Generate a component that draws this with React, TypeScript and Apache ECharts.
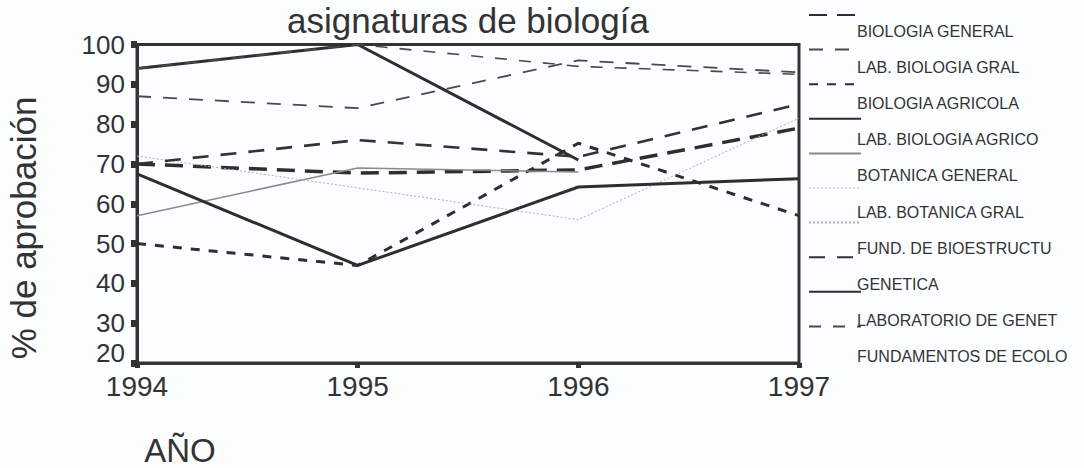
import React, { useEffect, useRef } from "react";
import * as echarts from "echarts";

const years = ["1994", "1995", "1996", "1997"];
const yTicks = { min: 20, max: 100, interval: 10 };

const seriesNames = [
  "BIOLOGIA GENERAL",
  "LAB. BIOLOGIA GRAL",
  "BIOLOGIA AGRICOLA",
  "LAB. BIOLOGIA AGRICO",
  "BOTANICA GENERAL",
  "LAB. BOTANICA GRAL",
  "FUND. DE BIOESTRUCTU",
  "GENETICA",
  "LABORATORIO DE GENET",
  "FUNDAMENTOS DE ECOLO",
];

const biologiaGeneral = [70, 67.7, 68.5, 79];
const labBiologiaGral = [87, 84, 96, 93];
const biologiaAgricola = [50, 44.5, 75.2, 57];
const labBiologiaAgrico = [94, 100, 71, null];
const botanicaGeneral = [57, 69, 68, null];
const labBotanicaGral = [null, null, null, null];
const fundBioestructu = [72, 64, 56, 81.5];
const genetica = [70, 76, 71.8, 85];
const laboratorioGenet = [67.5, 44.5, 64.2, 66.3];
const fundamentosEcolo = [94, 100, 94.5, 92.5];

const seriesData = [
  biologiaGeneral,
  labBiologiaGral,
  biologiaAgricola,
  labBiologiaAgrico,
  botanicaGeneral,
  labBotanicaGral,
  fundBioestructu,
  genetica,
  laboratorioGenet,
  fundamentosEcolo,
];

const lineStyles = [
  { color: "#2e2e2e", width: 3.5, type: [18, 10] },
  { color: "#4a4a4a", width: 1.8, type: [14, 12] },
  { color: "#2e2e2e", width: 3, type: [9, 9] },
  { color: "#2e2e2e", width: 3, type: "solid" },
  { color: "#8a8a8a", width: 1.5, type: "solid" },
  { color: "#dddddd", width: 1, type: [2, 2] },
  { color: "#b0b0b0", width: 1, type: [2, 2] },
  { color: "#333", width: 2.6, type: [16, 12] },
  { color: "#2e2e2e", width: 3, type: "solid" },
  { color: "#4a4a4a", width: 1.6, type: [12, 12] },
];

const FONT = "'Liberation Sans', Arial, sans-serif";
const TEXT = "#333";

export default function App() {
  const ref = useRef<HTMLDivElement>(null);

  useEffect(() => {
    if (!ref.current) return;
    const chart = echarts.init(ref.current, undefined, { renderer: "svg" });
    const option: any = {
      animation: false,
      backgroundColor: "#fcfdff",
      textStyle: { fontFamily: FONT },
      grid: {
        left: 137,
        right: 285,
        top: 44.5,
        bottom: 105,
        show: true,
        borderColor: "#333",
        borderWidth: 3,
        backgroundColor: "transparent",
      },
      xAxis: {
        type: "category",
        data: years,
        boundaryGap: false,
        axisLine: { show: true, lineStyle: { color: "#333", width: 3 } },
        axisTick: { show: true, length: 5, lineStyle: { color: "#333", width: 5 } },
        axisLabel: { fontSize: 28, color: TEXT, margin: 9, fontFamily: FONT },
        splitLine: { show: false },
      },
      yAxis: {
        type: "value",
        min: yTicks.min,
        max: yTicks.max,
        interval: yTicks.interval,
        axisLine: { show: true, lineStyle: { color: "#333", width: 3 } },
        axisTick: { show: true, length: 6, lineStyle: { color: "#333", width: 7 } },
        axisLabel: {
          fontSize: 26,
          lineHeight: 20,
          color: TEXT,
          margin: 12,
          fontFamily: FONT,
          verticalAlignMinLabel: "bottom",
        },
        splitLine: { show: false },
      },
      legend: [
        {
          orient: "vertical",
          left: 808,
          top: 7,
          padding: 0,
          itemWidth: 52,
          itemHeight: 16,
          itemGap: 20.2,
          formatter: () => "",
          textStyle: { fontSize: 1 },
          itemStyle: { opacity: 0, color: "transparent", borderColor: "transparent", borderWidth: 0 },
          data: seriesNames,
          selectedMode: false,
        },
        {
          orient: "vertical",
          left: 852,
          top: 23,
          padding: 0,
          icon: "rect",
          itemWidth: 0,
          itemHeight: 16,
          itemGap: 20.2,
          itemStyle: { opacity: 0 },
          textStyle: { fontSize: 16, color: TEXT, lineHeight: 16, fontFamily: FONT },
          data: seriesNames,
          selectedMode: false,
        },
      ],
      graphic: [
        {
          type: "text",
          x: 468,
          y: 20,
          style: {
            text: "asignaturas de biología",
            fontSize: 35,
            fontFamily: FONT,
            fill: TEXT,
            align: "center",
            verticalAlign: "middle",
          },
        },
        {
          type: "text",
          x: 23,
          y: 228,
          rotation: Math.PI / 2,
          style: {
            text: "% de aprobación",
            fontSize: 35,
            fontFamily: FONT,
            fill: TEXT,
            align: "center",
            verticalAlign: "middle",
          },
        },
        {
          type: "text",
          x: 180,
          y: 450,
          style: {
            text: "AÑO",
            fontSize: 33,
            fontFamily: FONT,
            fill: TEXT,
            align: "center",
            verticalAlign: "middle",
          },
        },
      ],
      series: seriesNames.map((name, i) => ({
        name,
        type: "line",
        data: seriesData[i],
        symbol: "none",
        showSymbol: false,
        connectNulls: false,
        lineStyle: lineStyles[i],
        itemStyle: { color: lineStyles[i].color },
        emphasis: { disabled: true },
      })),
    };
    chart.setOption(option);
    return () => chart.dispose();
  }, []);

  return (
    <div
      ref={ref}
      style={{ position: "fixed", left: 0, top: 0, width: 1084, height: 468 }}
    />
  );
}
